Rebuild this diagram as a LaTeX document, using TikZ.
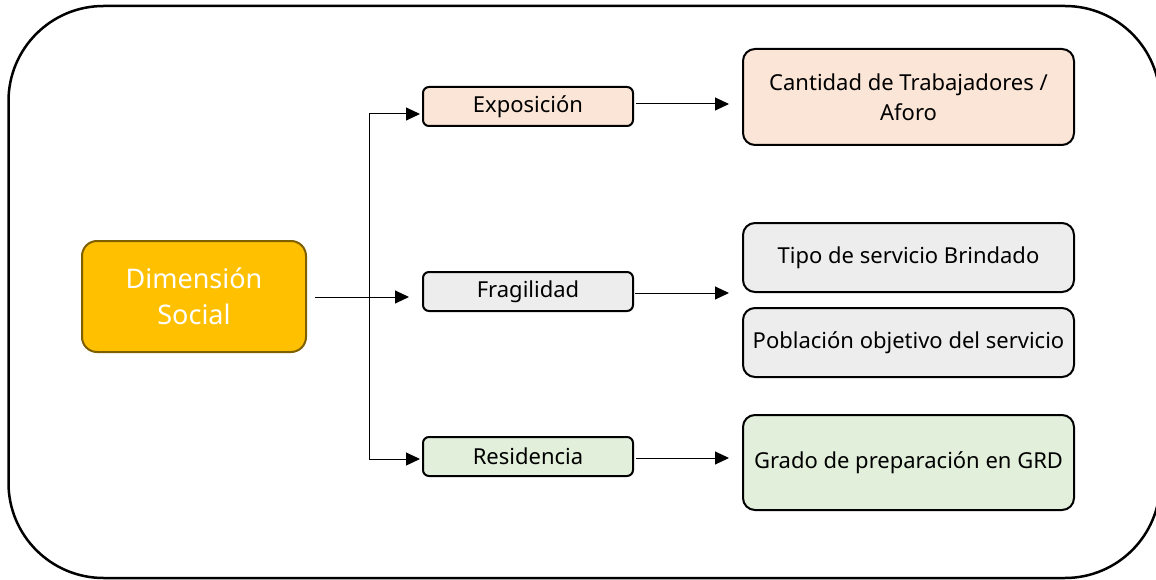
\documentclass[tikz,border=0pt]{standalone}
\usepackage{fontspec}
\setmainfont{Noto Sans}
\usetikzlibrary{arrows.meta}
\definecolor{peach}{HTML}{FBE5D6}
\definecolor{lgray}{HTML}{EDEDED}
\definecolor{lgreen}{HTML}{E2EFDA}
\definecolor{gold}{HTML}{FFC000}
\definecolor{darkgold}{HTML}{7F6000}
\begin{document}
\begin{tikzpicture}[x=1pt,y=-1pt,
  small/.style={draw=black, line width=2pt, rounded corners=6pt, minimum width=210pt, minimum height=39pt, inner sep=0pt, font=\fontsize{22}{26}\selectfont},
  big/.style={draw=black, line width=2pt, rounded corners=12pt, minimum width=331pt, inner sep=0pt, align=center, font=\fontsize{22}{30}\selectfont},
  conn/.style={line width=1pt, -{Triangle[length=14pt,width=13pt]}}]
\useasboundingbox (0,0) rectangle (1156,580);
\draw[line width=2.5pt, rounded corners=95pt] (8.5,6) rectangle (1160,578);

\node[draw=darkgold, fill=gold, line width=2pt, rounded corners=15pt, minimum width=224pt, minimum height=111pt, inner sep=0pt, align=center, text=white, font=\fontsize{27}{36}\selectfont] (dim) at (194,296.5) {Dimensión\\Social};

\node[small, fill=peach] (exp) at (528,106.5) {\raisebox{-1.5pt}{Exposición}};
\node[small, fill=lgray] (fra) at (528,291.5) {\raisebox{-1.5pt}{Fragilidad}};
\node[small, fill=lgreen] (res) at (528,456.5) {Residencia};

\node[big, fill=peach, minimum height=96pt] (cant) at (908.5,97) {Cantidad de Trabajadores /\\Aforo};
\node[big, fill=lgray, minimum height=69pt] (tipo) at (908.5,257.5) {\raisebox{-1.5pt}{Tipo de servicio Brindado}};
\node[big, fill=lgray, minimum height=69pt] (pob) at (908.5,342.5) {\raisebox{-1.5pt}{Población objetivo del servicio}};
\node[big, fill=lgreen, minimum height=95pt] (grado) at (908.5,462.5) {\raisebox{-1.5pt}{Grado de preparación en GRD}};

\coordinate (bt) at (369,114);
\coordinate (bb) at (369,459);
\coordinate (dm) at (315,297);
\coordinate (fm) at (635,293);

\draw[line width=1pt] (bt) -- (bb);
\draw[conn, shorten >=2pt] (bt) -- (exp.west |- bt);
\draw[conn, shorten >=2pt] (bb) -- (res.west |- bb);
\draw[conn, shorten >=13pt] (dm) -- (fra.west |- dm);

\draw[conn, shorten <=2pt, shorten >=13pt] ([yshift=2.5pt]exp.east) -- ([yshift=2.5pt]exp.east -| cant.west);
\draw[conn, shorten >=13pt] (fm) -- (fm -| tipo.west);
\draw[conn, shorten <=2pt, shorten >=13pt] ([yshift=-1.5pt]res.east) -- ([yshift=-1.5pt]res.east -| grado.west);
\end{tikzpicture}
\end{document}
